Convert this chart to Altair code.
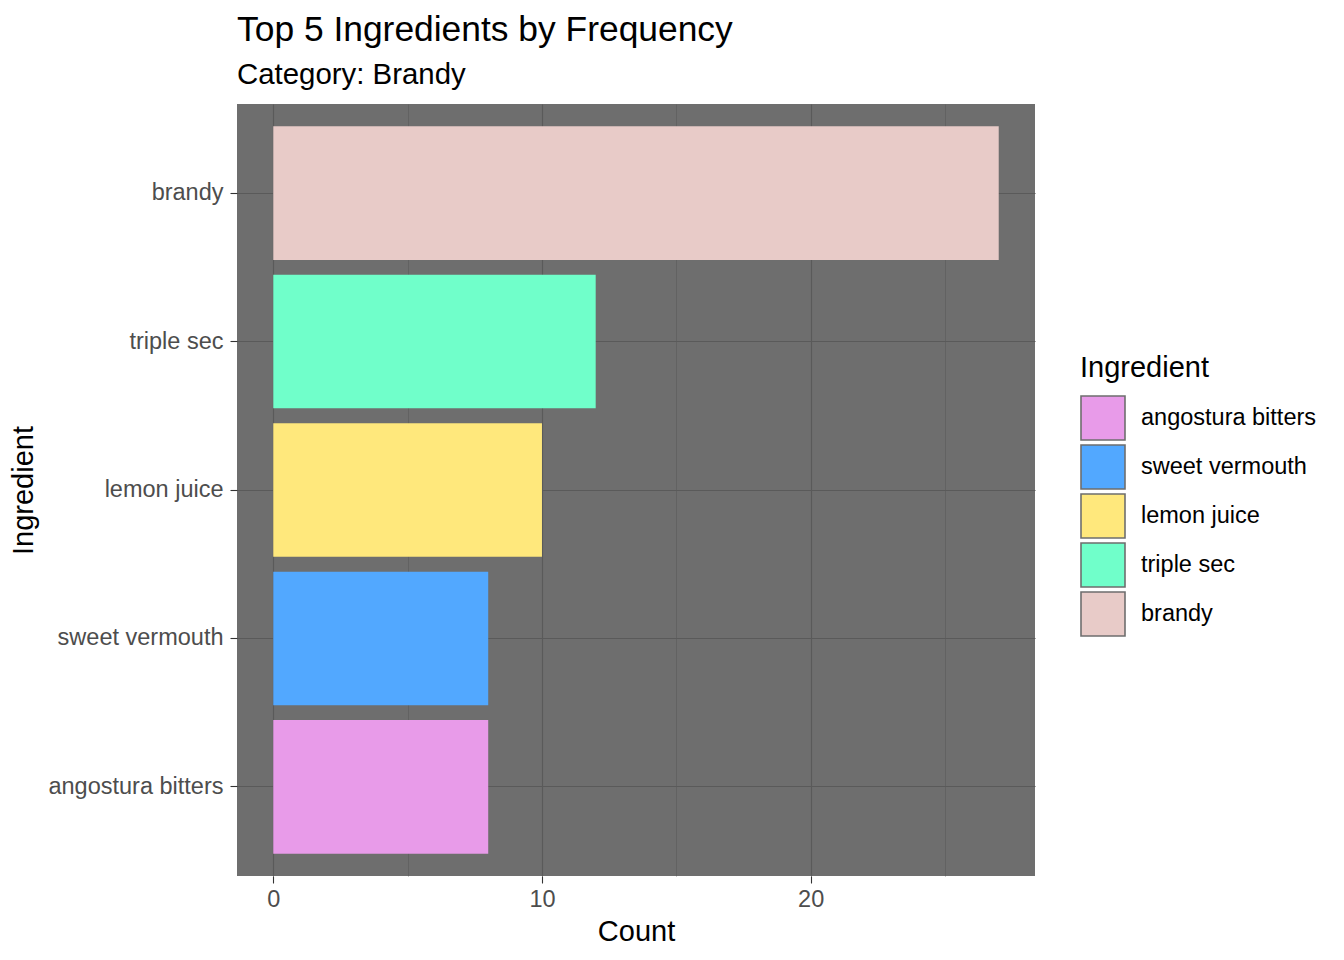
import altair as alt
import pandas as pd

ingredients = ["brandy", "triple sec", "\u00a0lemon juice", "sweet vermouth", "angostura bitters"]
axis_labels = ["brandy", "triple sec", "lemon juice", "sweet vermouth", "angostura bitters"]
counts = [27, 12, 10, 8, 8]
legend_order = ["angostura bitters", "sweet vermouth", "\u00a0lemon juice", "triple sec", "brandy"]
legend_colors = ["#E89BE9", "#52A8FF", "#FFE87C", "#70FFCA", "#E8CBC8"]

df = pd.DataFrame({"Ingredient": ingredients, "Label": axis_labels, "Count": counts})

FONT = "Liberation Sans"

bars = alt.Chart(df).mark_bar().encode(
    x=alt.X("Count:Q",
            scale=alt.Scale(domain=[-1.35, 28.35], nice=False, zero=False),
            axis=alt.Axis(values=[0, 5, 10, 15, 20, 25],
                          labelExpr="datum.value % 10 == 0 ? datum.label : ''",
                          tickOpacity={"condition": {"test": "datum.value % 10 == 0", "value": 1}, "value": 0},
                          gridWidth={"condition": {"test": "datum.value % 10 == 0", "value": 1.1}, "value": 0.6},
                          title="Count", labelPadding=4, titlePadding=7)),
    y=alt.Y("Label:N", sort=axis_labels,
            scale=alt.Scale(paddingInner=0.1, paddingOuter=0.15),
            axis=alt.Axis(title="Ingredient", grid=True, gridWidth=1.1,
                          labelPadding=7, titlePadding=9)),
    fill=alt.Fill("Ingredient:N",
                  scale=alt.Scale(domain=legend_order, range=legend_colors),
                  legend=alt.Legend(title="Ingredient", orient="none",
                                    legendX=843, legendY=250,
                                    symbolType="square", symbolSize=1936,
                                    symbolStrokeColor="#6E6E6E", symbolStrokeWidth=1.6,
                                    symbolOpacity=1,
                                    rowPadding=-4, labelOffset=15,
                                    titleFontSize=29, titleFont=FONT, titleFontWeight="normal",
                                    titleColor="#000000", titlePadding=12,
                                    labelFontSize=23.5, labelFont=FONT, labelColor="#000000",
                                    labelLimit=400)),
).properties(
    width=798,
    height=772,
    title=alt.TitleParams(text="Top 5 Ingredients by Frequency",
                          subtitle="Category: Brandy",
                          anchor="start", frame="group",
                          fontSize=35.4, subtitleFontSize=29.4,
                          font=FONT, subtitleFont=FONT,
                          fontWeight="normal", color="#000000", subtitleColor="#000000",
                          subtitlePadding=13, offset=14.5),
    autosize=alt.AutoSizeParams(type="none"),
    padding={"left": 229, "top": 96, "right": 300, "bottom": 74},
).configure_view(
    fill="#6E6E6E", stroke=None
).configure_axis(
    domain=False,
    gridColor="#5A5A5A",
    tickColor="#333333",
    tickSize=7,
    tickWidth=1.1,
    labelFont=FONT,
    labelFontSize=23.5,
    labelColor="#4D4D4D",
    titleFont=FONT,
    titleFontSize=29,
    titleFontWeight="normal",
    titleColor="#000000",
)

chart = bars
chart.save("out.html", embed_options={"renderer": "svg", "actions": False})
